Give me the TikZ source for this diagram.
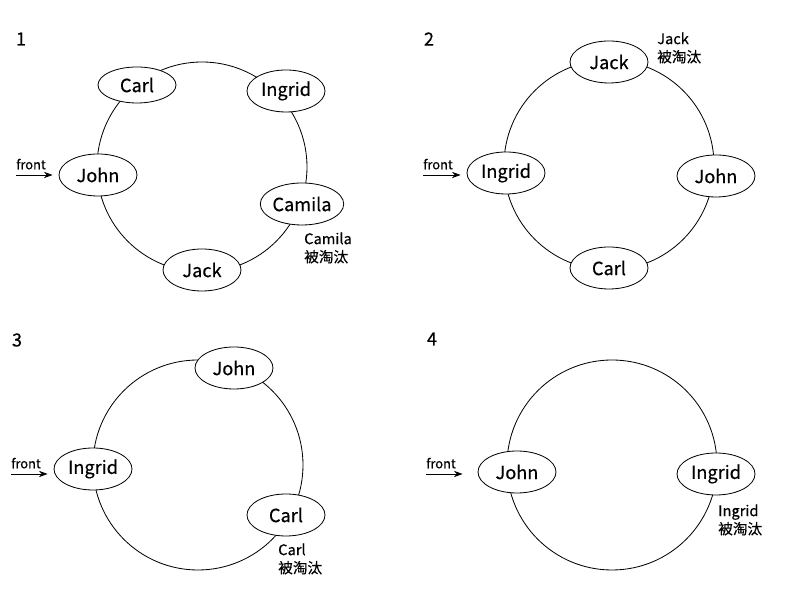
\documentclass[tikz,border=0pt]{standalone}
\usepackage{fontspec}
\setmainfont{Noto Sans CJK SC}[FakeBold=0.4]
\usetikzlibrary{shapes.geometric,arrows.meta}

\tikzset{
    person/.style={ellipse, draw, fill=white, line width=0.7pt, inner sep=0pt,
        minimum width=23.4mm, minimum height=12.6mm, font=\fontsize{15.5}{18}\selectfont},
    outlbl/.style={anchor=west, align=left, inner sep=0pt, font=\fontsize{12.5}{15.5}\selectfont},
    frontlbl/.style={inner sep=0pt, font=\fontsize{11}{12}\selectfont},
    numlbl/.style={inner sep=0pt, font=\fontsize{15.5}{18}\selectfont},
    ring/.style={line width=0.7pt},
    frontarrow/.style={-{Stealth[length=2.6mm,width=1.9mm]}, line width=0.7pt},
}

\begin{document}
\begin{tikzpicture}[x=0.3mm, y=0.3mm]
\useasboundingbox (0,0) rectangle (800,600);
\def\rr{105}

% round 1: Camila leaves
\begin{scope}[shift={(202,433)}]
    \draw[ring] (0,0) circle (\rr);
    \node[numlbl] (n1) at (-181,128) {1};
    \node[person] (john1) at (-104,-8) {John};
    \node[person, minimum height=10.8mm] (carl1) at (-65,82) {Carl};
    \node[person] (ingrid1) at (84,76) {Ingrid};
    \node[person] (camila1) at (100,-37) {Camila};
    \node[person] (jack1) at (0,-103) {Jack};
    \node[outlbl] (out1) at (102,-81) {Camila\\被淘汰};
    \coordinate (f1) at (-186,-8);
    \node[frontlbl, anchor=south west] (fl1) at ([yshift=1.6mm]f1) {front};
    \draw[frontarrow, shorten >=1.8mm] (f1) -- (f1 -| john1.west);
\end{scope}

% round 2: Jack leaves
\begin{scope}[shift={(609,435)}]
    \draw[ring] (0,0) circle (\rr);
    \node[numlbl] (n2) at (-180,126) {2};
    \node[person] (jack2) at (0,103) {Jack};
    \node[person] (ingrid2) at (-103,-8) {Ingrid};
    \node[person] (john2) at (107,-11) {John};
    \node[person] (carl2) at (0,-103) {Carl};
    \node[outlbl] (out2) at (48,117) {Jack\\被淘汰};
    \coordinate (f2) at (-186,-10);
    \node[frontlbl, anchor=south west] (fl2) at ([yshift=1.6mm]f2) {front};
    \draw[frontarrow, shorten >=1.8mm] (f2) -- (f2 -| ingrid2.west);
\end{scope}

% round 3: Carl leaves
\begin{scope}[shift={(198,135)}]
    \draw[ring] (0,0) circle (\rr);
    \node[numlbl] (n3) at (-181,125) {3};
    \node[person] (ingrid3) at (-105,-4) {Ingrid};
    \node[person] (john3) at (36,97) {John};
    \node[person] (carl3) at (88,-50) {Carl};
    \node[outlbl] (out3) at (80,-94) {Carl\\被淘汰};
    \coordinate (f3) at (-187,-9);
    \node[frontlbl, anchor=south west] (fl3) at ([yshift=1.6mm]f3) {front};
    \draw[frontarrow, shorten >=1.8mm] (f3) -- (f3 -| ingrid3.west);
\end{scope}

% round 4: Ingrid leaves
\begin{scope}[shift={(612,135)}]
    \draw[ring] (0,0) circle (\rr);
    \node[numlbl] (n4) at (-180,126) {4};
    \node[person] (john4) at (-95,-7) {John};
    \node[person] (ingrid4) at (104,-9) {Ingrid};
    \node[outlbl] (out4) at (106,-55) {Ingrid\\被淘汰};
    \coordinate (f4) at (-186,-9);
    \node[frontlbl, anchor=south west] (fl4) at ([yshift=1.6mm]f4) {front};
    \draw[frontarrow, shorten >=4.5mm] (f4) -- (f4 -| john4.west);
\end{scope}
\end{tikzpicture}
\end{document}
